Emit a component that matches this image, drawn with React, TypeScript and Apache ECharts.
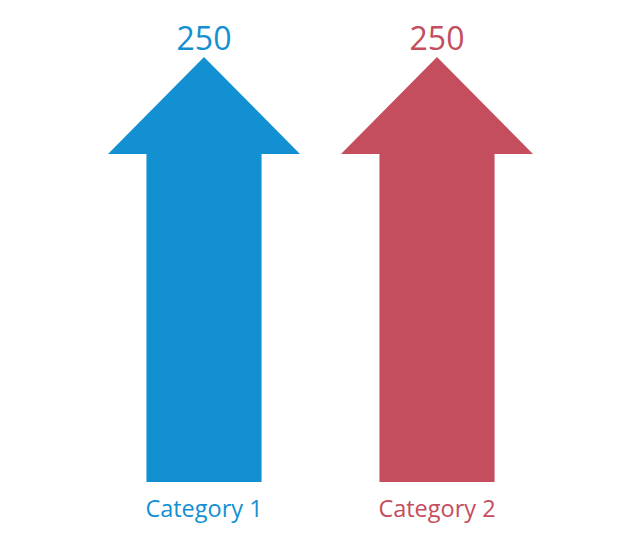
import React, { useEffect, useRef } from "react";
import * as echarts from "echarts";

const categories = ["Category 1", "Category 2"];
const values = [250, 250];
const colors = ["#1290D2", "#C44D5E"];

export default function App() {
  const ref = useRef<HTMLDivElement>(null);
  useEffect(() => {
    const chart = echarts.init(ref.current!, null, { renderer: "svg" });
    const font = "'Open Sans', sans-serif";
    chart.setOption({
      animation: false,
      grid: { left: 87.5, right: 86.5, top: 57, bottom: 56 },
      xAxis: {
        type: "category",
        data: categories,
        axisLine: { show: false },
        axisTick: { show: false },
        axisLabel: {
          margin: 14,
          fontSize: 23.5,
          fontFamily: font,
          color: (_v: any, i: number) => colors[i],
        },
      },
      yAxis: { type: "value", min: 0, max: 250, show: false, splitLine: { show: false } },
      series: [
        {
          type: "custom",
          data: values.map((v, i) => [i, v]),
          renderItem: (params: any, api: any) => {
            const i = api.value(0);
            const v = api.value(1);
            const top = api.coord([i, v]);
            const base = api.coord([i, 0]);
            const band = api.size([1, 0])[0];
            const headHalf = (band * 0.824) / 2;
            const shaftHalf = (band * 0.494) / 2;
            const headH = headHalf * 1.01;
            const cx = top[0];
            const ty = top[1];
            const by = base[1];
            const color = colors[params.dataIndex];
            return {
              type: "group",
              children: [
                {
                  type: "polygon",
                  shape: {
                    points: [
                      [cx, ty],
                      [cx + headHalf, ty + headH],
                      [cx + shaftHalf, ty + headH],
                      [cx + shaftHalf, by],
                      [cx - shaftHalf, by],
                      [cx - shaftHalf, ty + headH],
                      [cx - headHalf, ty + headH],
                    ],
                  },
                  style: { fill: color },
                },
                {
                  type: "text",
                  x: cx,
                  y: ty - 4,
                  style: {
                    text: String(v),
                    fill: color,
                    fontSize: 32,
                    fontFamily: font,
                    textAlign: "center",
                    textVerticalAlign: "bottom",
                  },
                },
              ],
            };
          },
        },
      ],
    });
    return () => chart.dispose();
  }, []);
  return <div ref={ref} style={{ width: 640, height: 538, position: "absolute", left: 0, top: 0 }} />;
}
